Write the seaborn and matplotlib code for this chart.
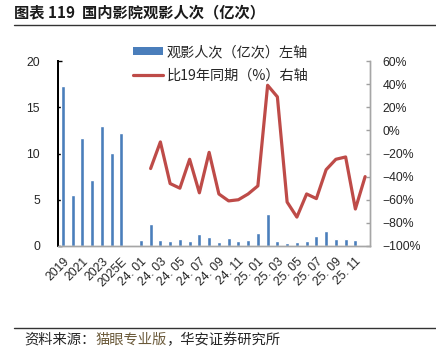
import numpy as np
import pandas as pd
import matplotlib
matplotlib.use("Agg")
import matplotlib.pyplot as plt
from matplotlib.lines import Line2D
from matplotlib.patches import Patch
import seaborn as sns

# ---------------- data ----------------
year_cats = ["2019", "2020", "2021", "2022", "2023", "2024", "2025E"]
month_cats = ["24. 01", "24. 02", "24. 03", "24. 04", "24. 05", "24. 06",
              "24. 07", "24. 08", "24. 09", "24. 10", "24. 11", "24. 12",
              "25. 01", "25. 02", "25. 03", "25. 04", "25. 05", "25. 06",
              "25. 07", "25. 08", "25. 09", "25. 10", "25. 11", "25. 12"]
all_cats = year_cats + [" "] + month_cats

year_attendance = [17.3, 5.5, 11.7, 7.1, 13.0, 10.1, 12.2]
month_attendance = [0.65, 2.35, 0.68, 0.58, 0.72, 0.58, 1.34, 1.01, 0.40, 0.91,
                    0.50, 0.62, 1.38, 3.44, 0.50, 0.29, 0.46, 0.54, 1.08, 1.66,
                    0.72, 0.72, 0.63]  # 24.01 - 25.11
bar_cats = year_cats + month_cats[:23]
bar_vals = year_attendance + month_attendance

line_cats = month_cats[1:]  # 24.02 - 25.12
vs2019_pct = [-33, -10, -46, -50, -25, -54, -19, -55, -61, -60, -55, -48,
              39, 29, -62, -75, -55, -59, -34, -25, -23, -68, -40]

label_bar = "观影人次（亿次）左轴"
label_line = "比19年同期（%）右轴"
title = "图表 119  国内影院观影人次（亿次）"
src_a = "资料来源："
src_b = "猫眼专业版"
src_c = "，华安证券研究所"

# ---------------- style ----------------
sns.set_theme(style="white")
plt.rcParams["font.family"] = ["Liberation Sans", "Noto Sans CJK SC", "DejaVu Sans"]
cjk = ["Noto Sans CJK SC", "DejaVu Sans"]

BLUE = "#4A7EBB"
RED = "#BE4B48"

fig = plt.figure(figsize=(4.36, 3.57), dpi=100)
ax = fig.add_axes([58 / 436, 1 - 246 / 357, (370 - 58) / 436, (246 - 61) / 357])

df_bar = pd.DataFrame({"cat": bar_cats, "val": bar_vals})
sns.barplot(data=df_bar, x="cat", y="val", order=all_cats, color=BLUE,
            saturation=1, width=0.42, ax=ax)
ax.set_ylim(0, 20)
ax.set_yticks([0, 5, 10, 15, 20])
ax.set_xlim(-0.5, len(all_cats) - 0.5)
ax.set_xlabel("")
ax.set_ylabel("")

ax2 = ax.twinx()
df_line = pd.DataFrame({"pos": [all_cats.index(c) for c in line_cats],
                        "pct": vs2019_pct})
sns.lineplot(data=df_line, x="pos", y="pct", color=RED, linewidth=2.3, ax=ax2)
ax2.set_ylim(-100, 60)
ax2.set_yticks(np.arange(-100, 61, 20))
ax2.set_yticklabels([f"{v}%".replace("-", "\u2212") for v in range(-100, 61, 20)])
ax2.set_xlabel("")
ax2.set_ylabel("")
ax2.set_xlim(-0.5, len(all_cats) - 0.5)

# x tick labels every other category
ticks = list(range(0, len(all_cats), 2))
ax.set_xticks(ticks)
ax.set_xticklabels([all_cats[i] for i in ticks], rotation=45, ha="right",
                   va="top", rotation_mode="anchor", fontsize=8.7)
ax.tick_params(axis="x", length=0, pad=7)
ax.tick_params(axis="y", direction="in", length=3, width=1, color="black",
               labelsize=8.8, pad=13, left=True)
ax2.tick_params(axis="y", direction="in", length=3, width=1, color="#A0A0A0",
                labelsize=8.8, pad=9, right=True)

for a in (ax, ax2):
    a.spines["top"].set_visible(False)
    a.spines["left"].set_color("black")
    a.spines["left"].set_linewidth(1.4)
    a.spines["right"].set_color("#A6A6A6")
    a.spines["right"].set_linewidth(1.0)
    a.spines["bottom"].set_color("#A6A6A6")
    a.spines["bottom"].set_linewidth(1.0)
    a.grid(False)

# legend
handles = [Patch(facecolor=BLUE, edgecolor="none"),
           Line2D([0], [0], color=RED, linewidth=2.3)]
leg = ax2.legend(handles, [label_bar, label_line], loc="upper left",
                 bbox_to_anchor=((133 - 58) / 312, 1.085), frameon=False,
                 prop={"family": cjk, "size": 10.2}, handlelength=2.1,
                 handleheight=0.45, handletextpad=0.3, labelspacing=0.65,
                 borderaxespad=0, borderpad=0)

# title & separators
fig.text(14 / 436, 1 - 12 / 357, title, fontsize=11, fontweight="bold",
         family=cjk, va="center", ha="left", color="#1a1a1a")
fig.add_artist(Line2D([14 / 436, 1], [1 - 25 / 357, 1 - 25 / 357],
                      color="#333333", linewidth=1.0))
fig.add_artist(Line2D([14 / 436, 1], [1 - 328 / 357, 1 - 328 / 357],
                      color="#333333", linewidth=1.0))

# source text pieces
fig.canvas.draw()
r = fig.canvas.get_renderer()
x = 24 / 436
y = 1 - 340 / 357
for txt, col in [(src_a, "#262626"), (src_b, "#6B5A3A"), (src_c, "#262626")]:
    t = fig.text(x, y, txt, fontsize=10.3, family=cjk, va="center", ha="left",
                 color=col)
    bb = t.get_window_extent(renderer=r)
    x += bb.width / fig.bbox.width

fig.savefig("out.png", dpi=100)
